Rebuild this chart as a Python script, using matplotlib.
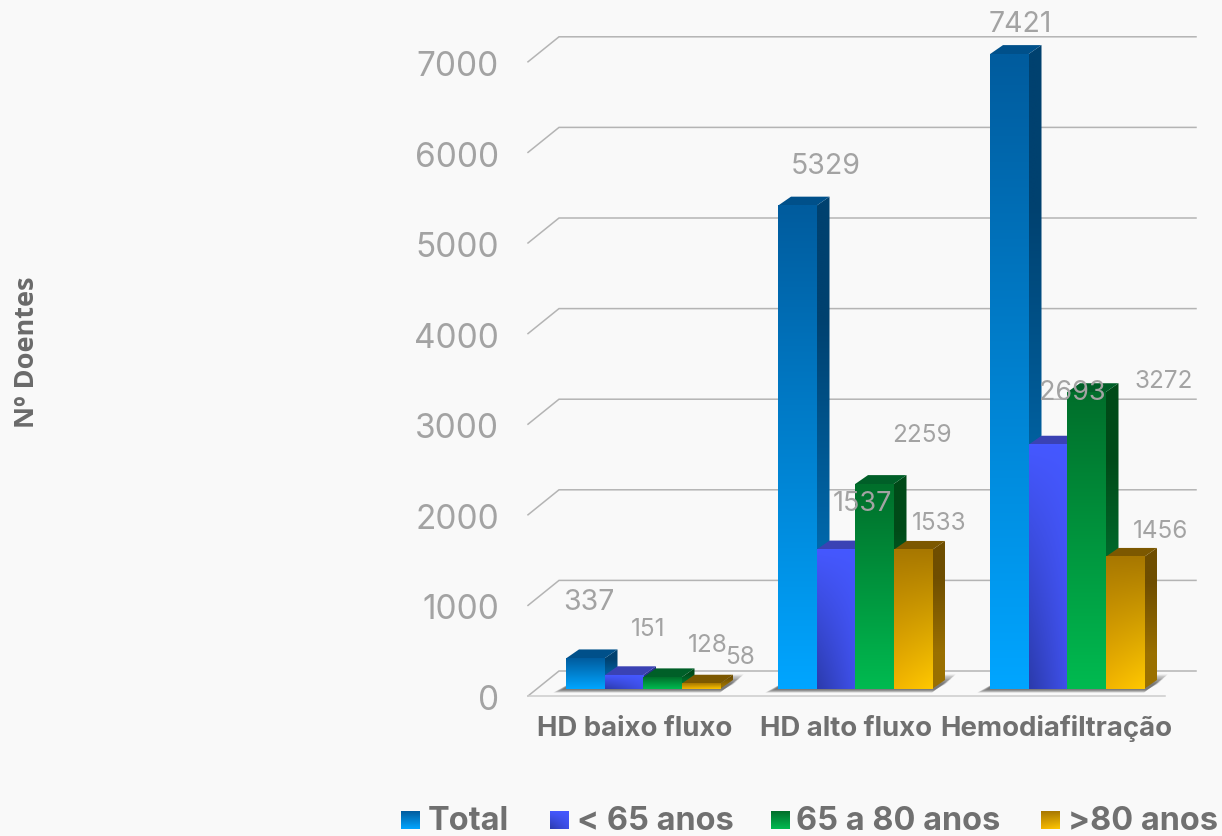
import numpy as np
import matplotlib
matplotlib.use("Agg")
import matplotlib.pyplot as plt
from matplotlib.colors import to_rgb
from matplotlib.patches import Polygon

W, H = 1222, 836

categories = ["HD baixo fluxo", "HD alto fluxo", "Hemodiafiltração"]
series = ["Total", "< 65 anos", "65 a 80 anos", ">80 anos"]
total = [337, 5329, 7421]
under65 = [151, 1537, 2693]
from65to80 = [128, 2259, 3272]
over80 = [58, 1533, 1456]
y_ticks = [0, 1000, 2000, 3000, 4000, 5000, 6000, 7000]
y_max = 7000

# corners of the front face: top left, top right, bottom left, bottom right
front_cols = [
    ["#005c9e", "#005c9e", "#00a5ff", "#00a5ff"],
    ["#4558ff", "#4558ff", "#2b3bab", "#3f50ea"],
    ["#006f2b", "#006f2b", "#00ba50", "#00ba50"],
    ["#a87800", "#a87800", "#f2b400", "#ffc800"],
]
side_cols = [("#00416f", "#006bb0"), ("#28308f", "#2b3bab"), ("#004a18", "#007a35"), ("#6f4e00", "#9a7000")]
top_cols = ["#00508a", "#3a42b4", "#005f28", "#7c5800"]

# label centres in pixels, one row per series
label_pos = [
    [(589, 599), (826, 163), (1020, 21)],
    [(648, 626), (862, 501), (1072, 390)],
    [(708, 643), (922, 433), (1164, 379)],
    [(740, 655), (939, 521), (1161, 529)],
]
label_size = [[20.5, 20.5, 20.5], [17.5, 19.5, 19.5], [17.5, 17.5, 17.5], [17.5, 17.5, 17.5]]

px_per_unit = 0.0907
px_per_cat = 212
y0_px = 689
x0_px = 643
bar_w = 38.5 / px_per_cat
dx = 13 / px_per_cat
dy = 9 / px_per_unit

plt.rcParams["font.family"] = ["Inter", "DejaVu Sans"]
fig = plt.figure(figsize=(W / 100, H / 100), dpi=100, facecolor="#f9f9f9")
ax = fig.add_axes([0, 0, 1, 1])
ax.axis("off")


def fx(px):
    return (px - x0_px) / px_per_cat


def fy(py):
    return (y0_px - py) / px_per_unit


def put(px, py, s, **kw):
    fig.text(px / W, 1 - py / H, s, **kw)


# walls and floor
for v in y_ticks:
    yb = 671 - v * 0.0906
    ax.plot([fx(528), fx(559), fx(1196)], [fy(yb + 25), fy(yb), fy(yb)],
            color="#b4b4b4", lw=1.1, zorder=1, solid_joinstyle="miter")
ax.plot([fx(528), fx(1165)], [fy(696), fy(696)], color="#cccccc", lw=1.1, zorder=1)

for v, py in zip(y_ticks, np.linspace(701, 67, len(y_ticks))):
    put(499, py, str(v), ha="right", va="center", fontsize=24, color="#a3a3a3")

x = np.arange(len(categories))
rows = [total, under65, from65to80, over80]


def gradient(cols, n=64):
    c = np.array([to_rgb(k) for k in cols])
    t = np.linspace(0, 1, n)[:, None, None]
    s = np.linspace(0, 1, n)[None, :, None]
    return (1 - t) * ((1 - s) * c[0] + s * c[1]) + t * ((1 - s) * c[2] + s * c[3])


# soft shadow on the floor
for i in x:
    left = i - 2 * bar_w
    right = i + 2 * bar_w
    for k in range(7):
        g = k * 1.5 / px_per_cat
        h = k * 0.5 / px_per_unit
        ax.add_patch(Polygon([(left - 0.06 + g, -40 + h), (right + g / 3, -40 + h),
                              (right + dx + 0.05 - g, dy + 60 - 3 * h), (left + dx, dy + 20)],
                             fc="#383838", ec="none", alpha=0.14, zorder=2))

z = 3
for s, vals in enumerate(rows):
    offset = (s - 1.5) * bar_w
    drawn = [min(v, y_max) for v in vals]
    bars = ax.bar(x + offset, drawn, width=bar_w, color="none", zorder=z)
    for b in bars:
        l, r, h = b.get_x(), b.get_x() + bar_w, b.get_height()
        # side face
        side = ax.imshow(np.array([[to_rgb(side_cols[s][0])], [to_rgb(side_cols[s][1])]]),
                         extent=(r, r + dx, 0, h + dy), aspect="auto", interpolation="bilinear",
                         origin="upper", zorder=z)
        side_poly = Polygon([(r, 0), (r + dx, dy), (r + dx, h + dy), (r, h)], transform=ax.transData, fc="none", ec="none")
        ax.add_patch(side_poly)
        side.set_clip_path(side_poly)
        # top face
        ax.add_patch(Polygon([(l, h), (r, h), (r + dx, h + dy), (l + dx, h + dy)],
                             fc=top_cols[s], ec="none", zorder=z))
        # front face
        ax.imshow(gradient(front_cols[s]), extent=(l, r, 0, h), aspect="auto",
                  interpolation="bilinear", origin="upper", zorder=z + 0.5)
    z += 1

for s, vals in enumerate(rows):
    for i, v in enumerate(vals):
        px, py = label_pos[s][i]
        put(px, py + 3, str(v), ha="center", va="center", fontsize=label_size[s][i], color="#a3a3a3", zorder=20)

ax.set_xlim(fx(0), fx(W))
ax.set_ylim(fy(H), fy(0))

for name, px in zip(categories, [635, 846, 1056]):
    put(px, 729, name, ha="center", va="center", fontsize=19.8, fontweight="bold", color="#707070")

put(27, 352, "Nº Doentes", rotation=90, ha="center", va="center", fontsize=19.5, fontweight="bold", color="#6a6a6a",
    family=["Open Sans", "DejaVu Sans"])

# legend
leg_ax = fig.add_axes([0, 0, 1, 1])
leg_ax.axis("off")
leg_ax.set_xlim(0, W)
leg_ax.set_ylim(H, 0)
for s, (name, sx, tx) in enumerate(zip(series, [401, 550, 771, 1041], [428, 577, 796, 1068])):
    leg_ax.imshow(gradient(front_cols[s]), extent=(sx, sx + 19, 829, 811), aspect="auto",
                  interpolation="bilinear", origin="upper")
    put(tx, 821, name, ha="left", va="center", fontsize=23.4, fontweight="bold", color="#707070")
leg_ax.set_xlim(0, W)
leg_ax.set_ylim(H, 0)

fig.savefig("out.png", dpi=100, facecolor=fig.get_facecolor())
